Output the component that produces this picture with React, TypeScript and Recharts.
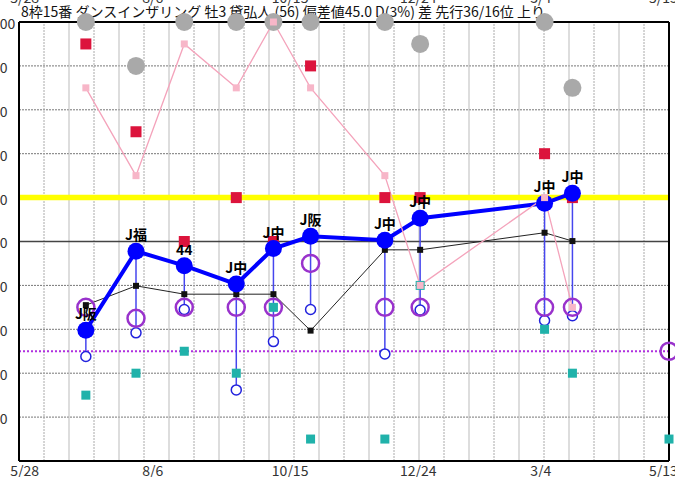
import {
  CartesianGrid,
  ComposedChart,
  ErrorBar,
  LabelList,
  Line,
  ReferenceLine,
  Scatter,
  XAxis,
  YAxis,
} from "recharts";

const FONT = '"Noto Sans CJK JP", "Noto Sans", sans-serif';

const title = "8枠15番 ダンスインザリング 牡3 黛弘人 (56) 偏差値45.0 D(3%) 差 先行36/16位 上り";

// x: days from 5/28
const dateLabels = ["5/28", "8/6", "10/15", "12/24", "3/4", "5/13"];
const dateTickDays = [3, 72, 146, 215, 281, 347];
const yTicks = [10, 20, 30, 40, 50, 60, 70, 80, 90, 100];

const raceDays = [36, 63, 89, 117, 137, 157, 197, 216, 283, 298];
const venues = ["J阪", "J福", "44", "J中", "J中", "J阪", "J中", "J中", "J中", "J中"];
const blueIndex = [29.8, 47.8, 44.5, 40.3, 48.4, 51.2, 50.3, 55.3, 58.7, 61.0];
const blueLow = [23.8, 29.2, 34.5, 16.2, 27.2, 34.5, 24.4, 34.4, 32.0, 33.1];
const blackIndex = [35.5, 39.9, 38.0, 38.0, 38.0, 29.7, 48.1, 48.1, 52.0, 50.1];
const pinkIndex = [85, 65, 95, 85, 100, 85, 65, 40, 60, 35];
const redIndex = [95, 75, 50, 60, 50, 90, 60, 60, 70, 60];
const grayIndex = [100, 90, 100, 100, 100, 100, 100, 95, 100, 85];
const purpleIndex = [35, 32.5, 35, 35, 35, 45, 35, 35, 35, 35];
const tealIndex = [15, 20, 25, 20, 35, 5, 5, 40, 30, 20];

const nextDay = 350;
const nextPurple = 25;
const nextTeal = 5;

// 26 grid columns across the range
const gridDays = Array.from({ length: 25 }, (_, i) => ((i + 1) * 350) / 26);

const races = raceDays.map((day, i) => ({
  day,
  venue: venues[i],
  blue: blueIndex[i],
  stem: [blueIndex[i] - blueLow[i], 0],
  low: blueLow[i],
  black: blackIndex[i],
  pink: pinkIndex[i],
  red: redIndex[i],
  gray: grayIndex[i],
  purple: purpleIndex[i],
  teal: tealIndex[i],
}));
const withNext = [...races, { day: nextDay, purple: nextPurple, teal: nextTeal }];

const square = (size: number, fill: string) => (p: any) => (
  <rect x={p.cx - size / 2} y={p.cy - size / 2} width={size} height={size} fill={fill} />
);
const ring = (r: number, stroke: string, sw: number, fill: string) => (p: any) => (
  <circle cx={p.cx} cy={p.cy} r={r} stroke={stroke} strokeWidth={sw} fill={fill} />
);

const fmtDate = (v: number) => dateLabels[dateTickDays.indexOf(v)] ?? "";

// chart is drawn wider and shifted left, so the y labels spill past the page edge
const SHIFT = 40;

export default function App() {
  return (
    <>
      <style>{"body{margin:0}"}</style>
      <div style={{ position: "relative", width: 675, height: 477, overflow: "hidden", background: "#fff" }}>
        <svg width={675} height={30} style={{ position: "absolute", left: 0, top: 0 }}>
          <text x={21} y={17} fontSize={14} fill="#111" fontFamily={FONT} textLength={524} lengthAdjust="spacing">
            {title}
          </text>
        </svg>
        <div style={{ position: "absolute", left: -SHIFT, top: 0 }}>
          <ComposedChart width={675 + SHIFT} height={477} data={races} margin={{ top: 0, right: 6, bottom: 0, left: SHIFT }}>
            <CartesianGrid vertical={false} stroke="#777" strokeDasharray="2 1" />
            {gridDays.map((d, i) => (
              <ReferenceLine
                key={`g${i}`}
                x={d}
                stroke={i % 2 === 0 ? "#aaa" : "#bbb"}
                strokeDasharray={i % 2 === 0 ? "2 1" : undefined}
              />
            ))}
            <XAxis
              type="number"
              dataKey="day"
              domain={[0, 350]}
              ticks={dateTickDays}
              tickFormatter={fmtDate}
              height={16}
              tickSize={0}
              tickMargin={5}
              tickLine={false}
              axisLine={{ stroke: "#000", strokeWidth: 2 }}
              tick={{ fontSize: 14, fill: "#333", fontFamily: FONT }}
              interval={0}
            />
            <XAxis
              xAxisId="top"
              orientation="top"
              type="number"
              dataKey="day"
              domain={[0, 350]}
              ticks={dateTickDays}
              tickFormatter={fmtDate}
              height={22}
              tickSize={0}
              tickMargin={19}
              tickLine={false}
              axisLine={{ stroke: "#000", strokeWidth: 2 }}
              tick={{ fontSize: 14, fill: "#333", fontFamily: FONT }}
              interval={0}
            />
            <YAxis
              type="number"
              domain={[0, 100]}
              ticks={yTicks}
              width={19}
              tickSize={0}
              tickMargin={0}
              tickLine={false}
              axisLine={{ stroke: "#000", strokeWidth: 2 }}
              tick={{ fontSize: 14, fill: "#333", fontFamily: FONT, textAnchor: "start", dx: -27, dy: 2 }}
              interval={0}
            />
            <ReferenceLine y={60} stroke="#ffff00" strokeWidth={5.5} />
            <ReferenceLine y={50} stroke="#444" strokeWidth={1.5} />
            <ReferenceLine y={25} stroke="#b030e0" strokeWidth={2} strokeDasharray="2 2" />
            <ReferenceLine x={350} stroke="#000" strokeWidth={2} />

            <Scatter xAxisId="top" dataKey="gray" data={races} shape={ring(9, "none", 0, "#a9a9a9")} isAnimationActive={false} />
            <Line
              dataKey="black"
              stroke="#222"
              strokeWidth={1}
              dot={(p: any) => <rect key={`bk${p.index}`} x={p.cx - 3} y={p.cy - 3} width={6} height={6} fill="#111" />}
              activeDot={false}
              isAnimationActive={false}
            />
            <Line
              dataKey="blue"
              stroke="#0000ff"
              strokeWidth={4}
              dot={{ r: 8.5, fill: "#0000ff", stroke: "none" }}
              activeDot={false}
              isAnimationActive={false}
            >
              <ErrorBar dataKey="stem" direction="y" width={0} stroke="#4646ee" strokeWidth={1.5} />
            </Line>
            <Scatter dataKey="low" data={races} shape={ring(5, "#2222dd", 1.5, "#fff")} isAnimationActive={false} />
            <Scatter dataKey="purple" data={withNext} shape={ring(8.5, "#9932cc", 2.5, "none")} isAnimationActive={false} />
            <Line
              dataKey="pink"
              stroke="#f4a3bb"
              strokeWidth={1.3}
              dot={(p: any) => <rect key={`pk${p.index}`} x={p.cx - 3.5} y={p.cy - 3.5} width={7} height={7} fill="#f7b6c8" />}
              activeDot={false}
              isAnimationActive={false}
            />
            <Scatter dataKey="red" data={races} shape={square(11, "#dc143c")} isAnimationActive={false} />
            <Scatter dataKey="teal" data={withNext} shape={square(9, "#20b2aa")} isAnimationActive={false} />
            <Line dataKey="blue" stroke="none" dot={false} activeDot={false} isAnimationActive={false}>
              <LabelList dataKey="venue" position="top" offset={11} fill="#000" fontSize={14} fontWeight="bold" fontFamily={FONT} />
            </Line>
          </ComposedChart>
        </div>
      </div>
    </>
  );
}
